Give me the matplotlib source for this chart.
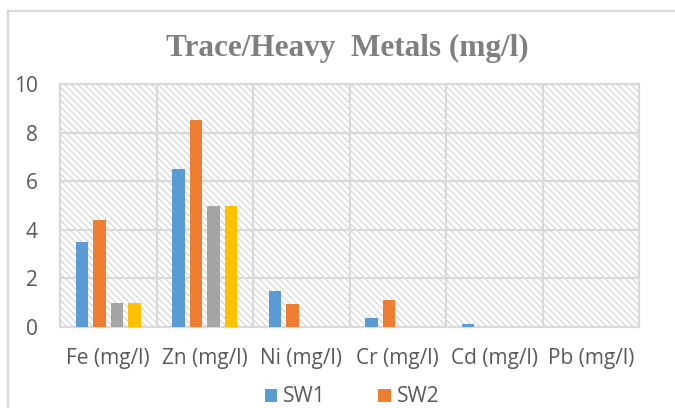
import matplotlib
matplotlib.use("Agg")
import matplotlib.pyplot as plt
import numpy as np
from matplotlib.lines import Line2D
from matplotlib.patches import Patch

categories = ["Fe (mg/l)", "Zn (mg/l)", "Ni (mg/l)", "Cr (mg/l)", "Cd (mg/l)", "Pb (mg/l)"]
sw1 = [3.5, 6.5, 1.5, 0.35, 0.12, 0.0]
sw2 = [4.4, 8.5, 0.95, 1.1, 0.0, 0.0]
series3 = [1.0, 5.0, 0.0, 0.0, 0.0, 0.0]
series4 = [1.0, 5.0, 0.0, 0.0, 0.0, 0.0]
yticks = [0, 2, 4, 6, 8, 10]

colors = ["#5B9BD5", "#ED7D31", "#A5A5A5", "#FFC000"]
grid_c = "#d9d9d9"
text_c = "#595959"
font = "Open Sans"

plt.rcParams["hatch.linewidth"] = 1.0
plt.rcParams["hatch.color"] = "#d9d9d9"

fig = plt.figure(figsize=(6.75, 4.08), dpi=100)
ax = fig.add_axes([60/675, 1-327/408, (639-60)/675, (327-84)/408])

ax.patch.set_facecolor("white")
ax.patch.set_hatch("\\\\\\\\\\")
ax.patch.set_edgecolor("#d9d9d9")
ax.patch.set_linewidth(0)

x = np.arange(len(categories))
step = 0.18
width = 0.13
all_series = [sw1, sw2, series3, series4]
for i, (vals, c) in enumerate(zip(all_series, colors)):
    ax.bar(x + (i - 1.5) * step, vals, width=width, color=c, zorder=3, linewidth=0)

ax.set_xlim(-0.5, len(categories) - 0.5)
ax.set_ylim(0, 10)
ax.set_yticks(yticks)
ax.set_xticks(x)
ax.set_xticklabels(categories)

for y in yticks[1:]:
    ax.axhline(y, color=grid_c, lw=1.6, zorder=2)
for b in np.arange(0.5, len(categories) - 0.5, 1):
    ax.axvline(b, color=grid_c, lw=1.6, zorder=2)
for s in ax.spines.values():
    s.set_color(grid_c)
    s.set_linewidth(1.6)
    s.set_zorder(2)

ax.tick_params(axis="both", length=0, colors=text_c, labelsize=15)
ax.tick_params(axis="y", pad=16)
ax.tick_params(axis="x", pad=15)
for lab in ax.get_xticklabels() + ax.get_yticklabels():
    lab.set_fontfamily(font)
    lab.set_color(text_c)

fig.text(347/675, 1-48/408, "Trace/Heavy  Metals (mg/l)", ha="center", va="center",
         fontsize=22.5, fontweight="bold", family="Liberation Serif", color="#7f7f7f")

handles = [Patch(facecolor=colors[0]), Patch(facecolor=colors[1])]
leg = fig.legend(handles, ["SW1", "SW2"], loc="center", bbox_to_anchor=(352/675, 1-397/408),
                 ncol=2, frameon=False, handlelength=0.6, handleheight=0.6, columnspacing=2.5,
                 handletextpad=0.3, borderpad=0, prop={"family": font, "size": 15})
for t in leg.get_texts():
    t.set_color(text_c)

fig.add_artist(Line2D([8/675, 8/675], [0, 1-11/408], color=grid_c, lw=1.6, transform=fig.transFigure))
fig.add_artist(Line2D([8/675, 1], [1-11/408, 1-11/408], color=grid_c, lw=1.6, transform=fig.transFigure))

fig.savefig("out.png", dpi=100)
